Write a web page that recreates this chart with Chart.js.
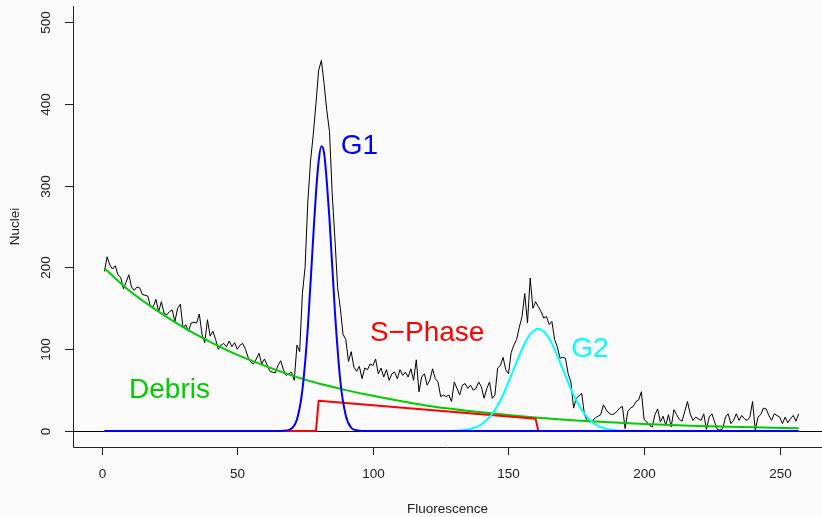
<!DOCTYPE html>
<html>
<head>
<meta charset="utf-8">
<title>Cell cycle histogram</title>
<script src="https://cdn.jsdelivr.net/npm/chart.js@4.4.1/dist/chart.umd.min.js"></script>
<style>
  html, body { margin: 0; padding: 0; background: #fafafa; }
  #wrap { width: 822px; height: 517px; }
</style>
</head>
<body>
<div id="wrap"><canvas id="histChart" width="822" height="517"></canvas></div>
<script>
// 測定データ（チャンネル 1〜257 の核数）
const nuclei = [
  195, 213, 203, 198, 202, 191, 188, 174, 182, 191,
  176, 172, 176, 175, 167, 166, 165, 152, 152, 161,
  146, 158, 144, 142, 146, 148, 134, 150, 155, 126,
  130, 122, 132, 133, 132, 143, 118, 108, 136, 116,
  122, 112, 100, 105, 107, 103, 110, 103, 108, 100,
  105, 107, 100, 90, 84, 82, 88, 95, 82, 88,
  81, 73, 72, 71, 80, 86, 75, 68, 70, 72,
  62, 105, 97, 168, 200, 280, 330, 362, 400, 441,
  453, 425, 392, 366, 290, 235, 175, 150, 118, 112,
  85, 97, 78, 73, 79, 64, 77, 75, 82, 80,
  88, 70, 77, 66, 75, 62, 70, 72, 64, 75,
  68, 72, 66, 76, 62, 87, 48, 66, 70, 56,
  62, 76, 64, 60, 42, 44, 42, 44, 36, 60,
  52, 44, 56, 58, 52, 56, 50, 52, 60, 54,
  40, 52, 60, 40, 44, 77, 80, 90, 75, 70,
  96, 105, 112, 127, 140, 168, 132, 187, 150, 158,
  152, 146, 138, 140, 130, 134, 112, 103, 89, 90,
  89, 70, 60, 28, 40, 43, 46, 20, 13, 11,
  13, 16, 18, 20, 32, 26, 22, 20, 21, 24,
  28, 30, 3, 24, 28, 30, 36, 38, 48, 14,
  11, 7, 5, 20, 27, 11, 18, 7, 20, 5,
  26, 20, 14, 12, 24, 36, 21, 13, 17, 15,
  13, 21, 2, 17, 21, 11, 2, 1, 3, 17,
  21, 9, 13, 21, 13, 19, 15, 13, 17, 36,
  1, 17, 20, 28, 27, 19, 13, 21, 19, 17,
  9, 17, 10, 15, 19, 12, 21
];

// フィット成分（図から読み取った点）
const debrisX = [1, 10, 20, 30, 40, 50, 60, 70, 80, 90, 100, 120, 140, 160, 180, 200, 220, 240, 257];
const debrisY = [199, 172, 148, 127, 109, 93, 80, 68, 58, 50, 43, 31, 23, 16.5, 12, 8.5, 6.2, 4.5, 3.5];

const g1X = [1, 66, 68, 70, 72, 74, 76, 78, 79, 80, 81, 82, 83, 84, 86, 88, 90, 92, 94, 96, 257];
const g1Y = [0, 0, 0.5, 3, 14, 50, 126, 237, 290, 330, 348, 340, 305, 259, 146, 61, 19, 4, 1, 0, 0];

const g2X = [128, 132, 136, 140, 144, 148, 152, 156, 158, 160, 161, 162, 164, 166, 168, 170, 174, 178, 182, 186, 190, 196, 257];
const g2Y = [0, 0.7, 2.6, 8, 21, 44, 76, 107, 118, 124, 125, 124, 118, 107, 92, 76, 44, 21, 8, 2.6, 0.7, 0, 0];

const sPhaseX = [1, 79, 80, 160, 161, 257];
const sPhaseY = [0, 0, 37, 15, 0, 0];

// 軸目盛
const xTicks = [0, 50, 100, 150, 200, 250];
const yTicks = [0, 100, 200, 300, 400, 500];

// 注記ラベル
const labels = [
  { text: 'G1', x: 95, y: 348, color: '#0000ff' },
  { text: 'S\u2212Phase', x: 120, y: 120, color: '#ff0000' },
  { text: 'G2', x: 180, y: 100, color: '#00ffff' },
  { text: 'Debris', x: 25, y: 50, color: '#00cd00' }
];

const FONT = '"Liberation Sans", Arial, Helvetica, sans-serif';

function toPoints(xs, ys) {
  return xs.map((x, i) => ({ x: x, y: ys[i] }));
}

/**
 * 背景・軸・目盛の描画（R 風）
 */
const axesPlugin = {
  id: 'axesPlugin',
  beforeDraw(chart) {
    const ctx = chart.ctx;
    ctx.save();
    ctx.fillStyle = '#fafafa';
    ctx.fillRect(0, 0, chart.width, chart.height);
    ctx.restore();
  },
  beforeDatasetsDraw(chart) {
    const ctx = chart.ctx;
    const area = chart.chartArea;
    const xs = chart.scales.x;
    const ys = chart.scales.y;

    ctx.save();
    ctx.strokeStyle = '#222';
    ctx.lineWidth = 1;

    // L 字の枠
    ctx.beginPath();
    ctx.moveTo(area.left + 0.5, area.top);
    ctx.lineTo(area.left + 0.5, area.bottom + 0.5);
    ctx.lineTo(area.right, area.bottom + 0.5);
    ctx.stroke();

    // abline(h = 0)
    const y0 = Math.round(ys.getPixelForValue(0)) + 0.5;
    ctx.strokeStyle = '#000';
    ctx.beginPath();
    ctx.moveTo(area.left, y0);
    ctx.lineTo(area.right, y0);
    ctx.stroke();

    ctx.strokeStyle = '#222';
    ctx.fillStyle = '#222';
    ctx.font = '13.5px ' + FONT;

    // x 軸目盛
    ctx.textAlign = 'center';
    ctx.textBaseline = 'middle';
    xTicks.forEach(v => {
      const px = Math.round(xs.getPixelForValue(v)) + 0.5;
      ctx.beginPath();
      ctx.moveTo(px, area.bottom);
      ctx.lineTo(px, area.bottom + 8);
      ctx.stroke();
      ctx.fillText(String(v), px, 474);
    });

    // y 軸目盛（縦書きラベル）
    yTicks.forEach(v => {
      const py = Math.round(ys.getPixelForValue(v)) + 0.5;
      ctx.beginPath();
      ctx.moveTo(area.left - 8, py);
      ctx.lineTo(area.left, py);
      ctx.stroke();
      ctx.save();
      ctx.translate(46, py);
      ctx.rotate(-Math.PI / 2);
      ctx.fillText(String(v), 0, 0);
      ctx.restore();
    });

    // 軸タイトル
    ctx.textBaseline = 'alphabetic';
    ctx.fillText('Fluorescence', (area.left + area.right) / 2, 513);
    ctx.save();
    ctx.translate(19, (area.top + area.bottom) / 2);
    ctx.rotate(-Math.PI / 2);
    ctx.fillText('Nuclei', 0, 0);
    ctx.restore();

    ctx.restore();
  },
  afterDatasetsDraw(chart) {
    const ctx = chart.ctx;
    const xs = chart.scales.x;
    const ys = chart.scales.y;
    ctx.save();
    ctx.font = '28px ' + FONT;
    ctx.textAlign = 'center';
    ctx.textBaseline = 'middle';
    labels.forEach(l => {
      ctx.fillStyle = l.color;
      ctx.fillText(l.text, xs.getPixelForValue(l.x), ys.getPixelForValue(l.y));
    });
    ctx.restore();
  }
};

const ctx = document.getElementById('histChart').getContext('2d');

new Chart(ctx, {
  type: 'line',
  data: {
    datasets: [
      {
        label: 'G1',
        data: toPoints(g1X, g1Y),
        borderColor: '#0000ff',
        borderWidth: 2,
        cubicInterpolationMode: 'monotone'
      },
      {
        label: 'G2',
        data: toPoints(g2X, g2Y),
        borderColor: '#00ffff',
        borderWidth: 2,
        cubicInterpolationMode: 'monotone'
      },
      {
        label: 'S-Phase',
        data: toPoints(sPhaseX, sPhaseY),
        borderColor: '#ff0000',
        borderWidth: 2,
        tension: 0
      },
      {
        label: 'Debris',
        data: toPoints(debrisX, debrisY),
        borderColor: '#00cd00',
        borderWidth: 2,
        cubicInterpolationMode: 'monotone'
      },
      {
        label: 'Nuclei',
        data: nuclei.map((v, i) => ({ x: i + 1, y: v })),
        borderColor: '#000000',
        borderWidth: 1,
        tension: 0
      }
    ]
  },
  options: {
    responsive: false,
    animation: false,
    events: [],
    parsing: false,
    layout: {
      padding: { left: 73, right: 0, top: 6, bottom: 70 }
    },
    elements: {
      point: { radius: 0 },
      line: { fill: false, borderJoinStyle: 'round' }
    },
    plugins: {
      legend: { display: false },
      tooltip: { enabled: false }
    },
    scales: {
      x: { type: 'linear', min: -10.58, max: 265.6, display: false },
      y: { type: 'linear', min: -19.56, max: 519.6, display: false }
    }
  },
  plugins: [axesPlugin]
});
</script>
</body>
</html>
